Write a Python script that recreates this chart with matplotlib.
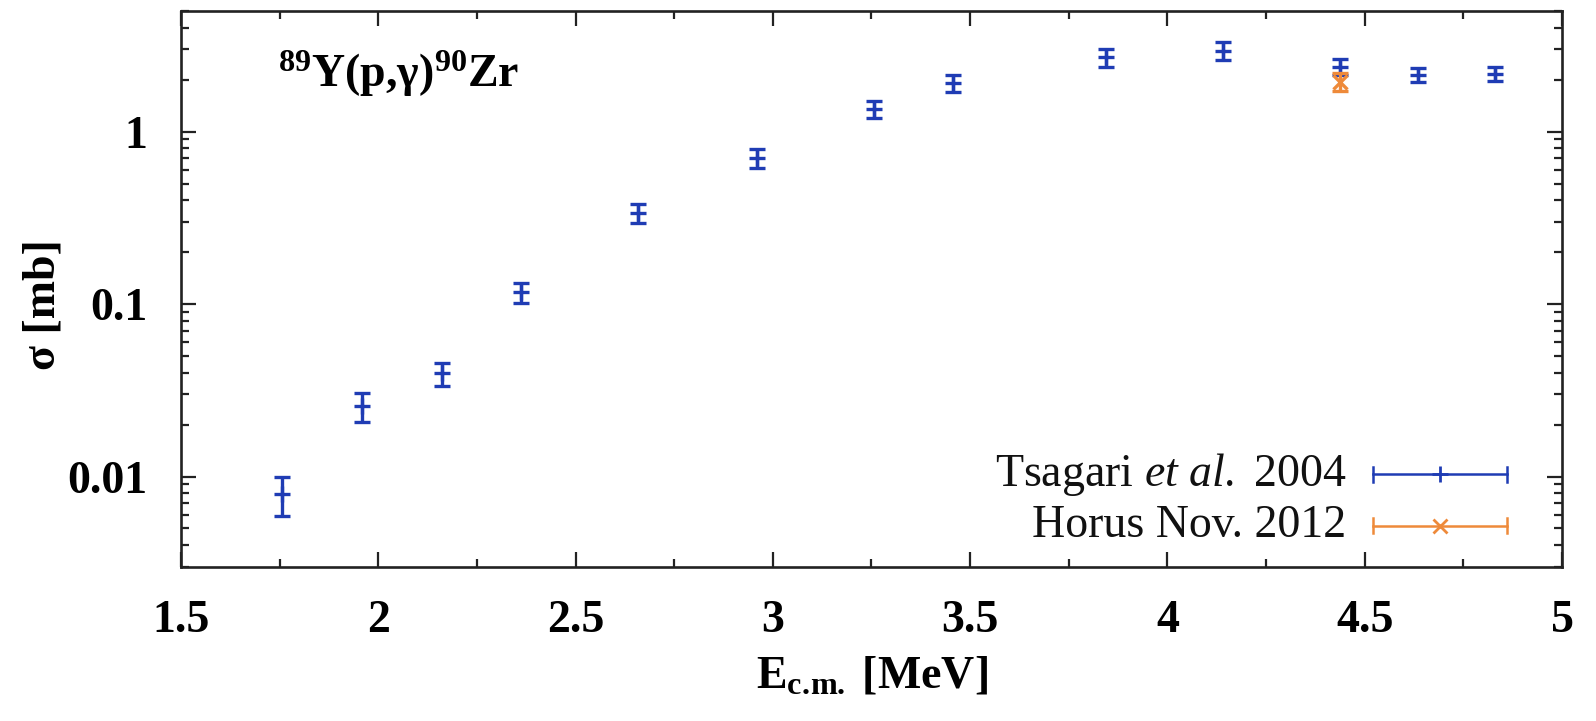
import matplotlib
matplotlib.use("Agg")
import matplotlib.pyplot as plt
from matplotlib.ticker import LogLocator, FixedLocator, FuncFormatter
from matplotlib.lines import Line2D

# Tsagari et al. 2004 cross sections
tsagari_E = [1.755, 1.960, 2.161, 2.362, 2.659, 2.959, 3.256, 3.457, 3.845, 4.141, 4.437, 4.635, 4.831]
tsagari_sigma = [0.0079, 0.0257, 0.0397, 0.117, 0.339, 0.707, 1.354, 1.907, 2.70, 2.95, 2.38, 2.13, 2.16]
tsagari_err = [0.0020, 0.0050, 0.0060, 0.015, 0.043, 0.090, 0.16, 0.22, 0.33, 0.34, 0.25, 0.20, 0.20]

# Horus Nov. 2012 measurement
horus_E = [4.437]
horus_sigma = [1.95]
horus_err = [0.24]

x_ticks = [1.5, 2.0, 2.5, 3.0, 3.5, 4.0, 4.5, 5.0]
x_tick_labels = ["1.5", "2", "2.5", "3", "3.5", "4", "4.5", "5"]
y_ticks = [0.01, 0.1, 1]
y_tick_labels = ["0.01", "0.1", "1"]

BLUE = "#1f3cb4"
ORANGE = "#ee8a3a"
SERIF = "Liberation Serif"

plt.rcParams["font.family"] = [SERIF, "DejaVu Serif"]
plt.rcParams["mathtext.fontset"] = "custom"
plt.rcParams["mathtext.rm"] = SERIF
plt.rcParams["mathtext.it"] = SERIF + ":italic"
plt.rcParams["mathtext.bf"] = SERIF + ":bold"

fig = plt.figure(figsize=(15.96, 7.21), dpi=100)
ax = fig.add_axes([0.1134, 0.2140, 0.8653, 0.7707])

ax.errorbar(tsagari_E, tsagari_sigma, yerr=tsagari_err, fmt="+", color=BLUE,
            ecolor=BLUE, elinewidth=2.4, capsize=6, capthick=2.4,
            markersize=12, markeredgewidth=2.4, zorder=3)
ax.errorbar(horus_E, horus_sigma, yerr=horus_err, fmt="x", color=ORANGE,
            ecolor=ORANGE, elinewidth=2.4, capsize=6, capthick=2.4,
            markersize=10, markeredgewidth=2.4, zorder=4)

ax.set_yscale("log")
ax.set_xlim(1.5, 5.0)
ax.set_ylim(0.003, 5.0)

ax.xaxis.set_major_locator(FixedLocator(x_ticks))
ax.set_xticklabels(x_tick_labels)
ax.xaxis.set_minor_locator(FixedLocator([1.75 + 0.5 * i for i in range(7)]))
ax.yaxis.set_major_locator(FixedLocator(y_ticks))
ax.set_yticklabels(y_tick_labels)
ax.yaxis.set_minor_locator(LogLocator(base=10, subs=range(2, 10)))
ax.yaxis.set_minor_formatter(FuncFormatter(lambda v, p: ""))

for lbl in ax.get_xticklabels() + ax.get_yticklabels():
    lbl.set_fontweight("bold")
    lbl.set_fontsize(33)

ax.tick_params(which="both", direction="in", top=True, right=True, width=1.6, color="#222222")
ax.tick_params(which="major", length=11, pad=24)
ax.tick_params(which="minor", length=5.5)
for s in ax.spines.values():
    s.set_linewidth(1.9)
    s.set_color("#222222")

ax.set_xlabel(r"E$_{\mathbf{c.\!m.}}$ [MeV]", fontsize=33, fontweight="bold", labelpad=10)
fig.text(0.027, 0.577, "σ [mb]", rotation=90, ha="center", va="center",
         fontsize=33, fontweight="bold")

# reaction label
ax.text(0.070, 0.863, r"$^{\mathbf{89}}$Y(p,γ)$^{\mathbf{90}}$Zr", transform=ax.transAxes,
        ha="left", va="baseline", fontsize=33, fontweight="bold")

# key with horizontal error-bar samples
key_rows = [(0.166, BLUE, "+", r"Tsagari $\mathit{et\ al.}$ 2004"),
            (0.074, ORANGE, "x", "Horus Nov. 2012")]
x0, x1 = 0.863, 0.960
for yk, col, mk, txt in key_rows:
    ax.add_line(Line2D([x0, x1], [yk, yk], transform=ax.transAxes, color=col, lw=1.8, clip_on=False))
    for xe in (x0, x1):
        ax.add_line(Line2D([xe, xe], [yk - 0.013, yk + 0.013], transform=ax.transAxes,
                           color=col, lw=1.8, clip_on=False))
    ax.add_line(Line2D([(x0 + x1) / 2], [yk], transform=ax.transAxes, color=col,
                       marker=mk, markersize=12 if mk == "+" else 10, markeredgewidth=2.0,
                       linestyle="none", clip_on=False))
    ax.text(0.844, yk, txt, transform=ax.transAxes, ha="right", va="center",
            fontsize=33, color="#111111")

fig.savefig("out.png", dpi=100)
